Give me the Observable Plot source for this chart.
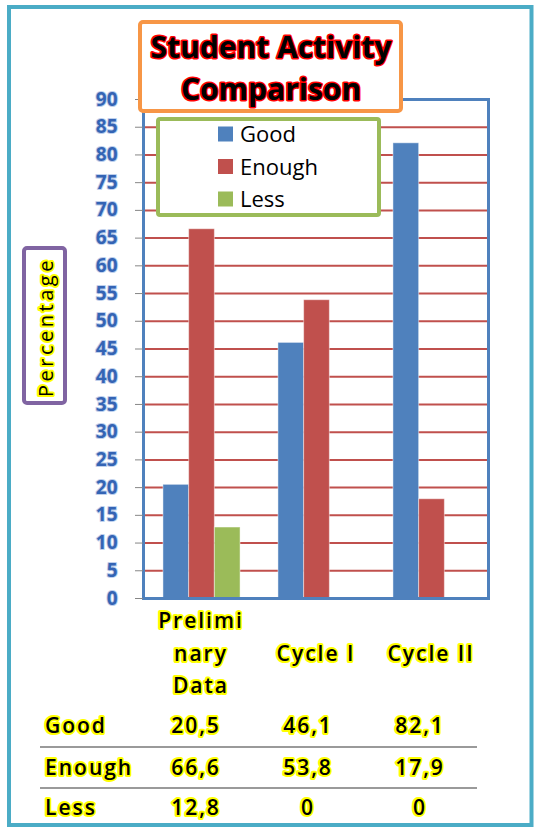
<!DOCTYPE html>
<html><head><meta charset="utf-8">
<script src="https://cdn.jsdelivr.net/npm/d3@7"></script>
<script src="https://cdn.jsdelivr.net/npm/@observablehq/plot@0.6"></script>
<style>
html,body{margin:0;padding:0;background:#fff;}
#wrap{position:relative;width:535px;height:828px;overflow:hidden;background:#fff;}
#wrap svg{position:absolute;left:0;top:0;}
#wrap svg.overlay{pointer-events:none;}
</style></head><body><div id="wrap"></div>
<script>
// ---- data ----
const categories = ["Preliminary Data", "Cycle I", "Cycle II"];
const categoryLabels = ["Prelimi\nnary\nData", "Cycle I", "Cycle II"];
const seriesNames = ["Good", "Enough", "Less"];
const goodValues = [20.5, 46.1, 82.1];
const enoughValues = [66.6, 53.8, 17.9];
const lessValues = [12.8, 0, 0];
const yTicks = [0, 5, 10, 15, 20, 25, 30, 35, 40, 45, 50, 55, 60, 65, 70, 75, 80, 85, 90];
const seriesColors = ["#4f81bd", "#c0504d", "#9bbb59"];
const titleLines = ["Student Activity", "Comparison"];
const yTitle = "Percentage";

const valuesBySeries = [goodValues, enoughValues, lessValues];
const rows = seriesNames.flatMap((s, si) =>
  categories.map((c, ci) => ({series: s, category: c, value: valuesBySeries[si][ci]})));
const labelOf = new Map(categories.map((c, i) => [c, categoryLabels[i]]));

const barW = 25.7;
const chart = Plot.plot({
  width: 535, height: 828,
  marginLeft: 143, marginRight: 47, marginTop: 99, marginBottom: 230,
  style: {fontFamily: "'Open Sans', sans-serif", background: "transparent"},
  x: {domain: categories, padding: 0, axis: null},
  y: {domain: [0, 90], axis: null},
  color: {domain: seriesNames, range: seriesColors},
  marks: [
    Plot.ruleY(yTicks.filter(v => v > 0 && v < 90), {stroke: "#c0504d", strokeWidth: 2}),
    ...seriesNames.map((s, si) => Plot.barY(rows.filter(d => d.series === s && d.value > 0), {
      x: "category", y: "value", fill: "series",
      insetLeft: (115 - barW) / 2, insetRight: (115 - barW) / 2,
      dx: (si - 1) * barW + 1,
      stroke: "#ffffff", strokeOpacity: 0.45, strokeWidth: 1
    })),
    Plot.ruleY([0], {stroke: "#868686", strokeWidth: 2}),
    Plot.frame({stroke: "#4f81bd", strokeWidth: 3}),
    Plot.axisY({ticks: yTicks, label: null, tickSize: 8, tickPadding: 18, stroke: "#868686", fill: "#3464b4",
      fontSize: 19, fontWeight: "bold", textStroke: "#bfd0ec", textStrokeWidth: 2}),
    Plot.text(categories, {x: d => d, text: d => labelOf.get(d), frameAnchor: "bottom",
      lineAnchor: "middle", dy: 52, lineHeight: 1.55, fontSize: 21, fontWeight: 600,
      fill: "#000", stroke: "#ffff00", strokeWidth: 4, strokeLinejoin: "round"})
  ]
});
chart.querySelectorAll("text").forEach(t => {
  if (!t.closest('[aria-label="y-axis tick label"]')) t.style.letterSpacing = "2px";
});
document.getElementById("wrap").appendChild(chart);

// ---- overlay: frame, title, legend, axis title, data table ----
const svg = d3.select("#wrap").append("svg").attr("class", "overlay")
  .attr("width", 535).attr("height", 828)
  .attr("font-family", "'Open Sans', sans-serif");

svg.append("rect").attr("x", 9).attr("y", 7).attr("width", 522.5).attr("height", 818)
  .attr("fill", "none").attr("stroke", "#4bacc6").attr("stroke-width", 4);

// title
svg.append("rect").attr("x", 140).attr("y", 22).attr("width", 261).attr("height", 89).attr("rx", 3)
  .attr("fill", "#fff").attr("stroke", "#f79646").attr("stroke-width", 4);
svg.selectAll("text.title").data(titleLines).join("text").attr("class", "title")
  .attr("x", 271).attr("y", (d, i) => 58 + i * 42).attr("text-anchor", "middle")
  .attr("font-size", 30).attr("font-weight", "bold").attr("fill", "#000")
  .attr("stroke", "#ff0000").attr("stroke-width", 3).attr("stroke-linejoin", "round")
  .attr("paint-order", "stroke").text(d => d);

// legend
svg.append("rect").attr("x", 158).attr("y", 119).attr("width", 221).attr("height", 96).attr("rx", 2)
  .attr("fill", "#fff").attr("stroke", "#9bbb59").attr("stroke-width", 4);
const lg = svg.selectAll("g.lg").data(seriesNames).join("g").attr("class", "lg")
  .attr("transform", (d, i) => `translate(218,${134 + i * 32.5})`);
lg.append("rect").attr("x", 0).attr("y", -7.5).attr("width", 15).attr("height", 15)
  .attr("fill", (d, i) => seriesColors[i]);
lg.append("text").attr("x", 22).attr("y", 8).attr("font-size", 22).attr("fill", "#000").text(d => d);

// y title
svg.append("rect").attr("x", 24).attr("y", 248).attr("width", 41).attr("height", 155).attr("rx", 3)
  .attr("fill", "#fff").attr("stroke", "#8064a2").attr("stroke-width", 4);
svg.append("text").attr("transform", "translate(53,327) rotate(-90)").attr("text-anchor", "middle")
  .attr("font-size", 20).attr("letter-spacing", "3.5px").attr("fill", "#000")
  .attr("stroke", "#ffff00").attr("stroke-width", 4).attr("stroke-linejoin", "round")
  .attr("paint-order", "stroke").text(yTitle);

// data table
const fmt = v => String(v).replace(".", ",");
const colX = [196, 308, 420];
const rowY = [733, 775, 815];
const tableText = sel => sel.attr("font-size", 21).attr("font-weight", 600).attr("letter-spacing", "2px")
  .attr("fill", "#000").attr("stroke", "#ffff00").attr("stroke-width", 4)
  .attr("stroke-linejoin", "round").attr("paint-order", "stroke");
seriesNames.forEach((s, si) => {
  tableText(svg.append("text").attr("x", 45).attr("y", rowY[si]).text(s));
  valuesBySeries[si].forEach((v, ci) => {
    tableText(svg.append("text").attr("x", colX[ci]).attr("y", rowY[si]).attr("text-anchor", "middle").text(fmt(v)));
  });
});
[747, 788].forEach(y => svg.append("line").attr("x1", 40).attr("x2", 477).attr("y1", y).attr("y2", y)
  .attr("stroke", "#9a9a9a").attr("stroke-width", 2));
</script></body></html>
